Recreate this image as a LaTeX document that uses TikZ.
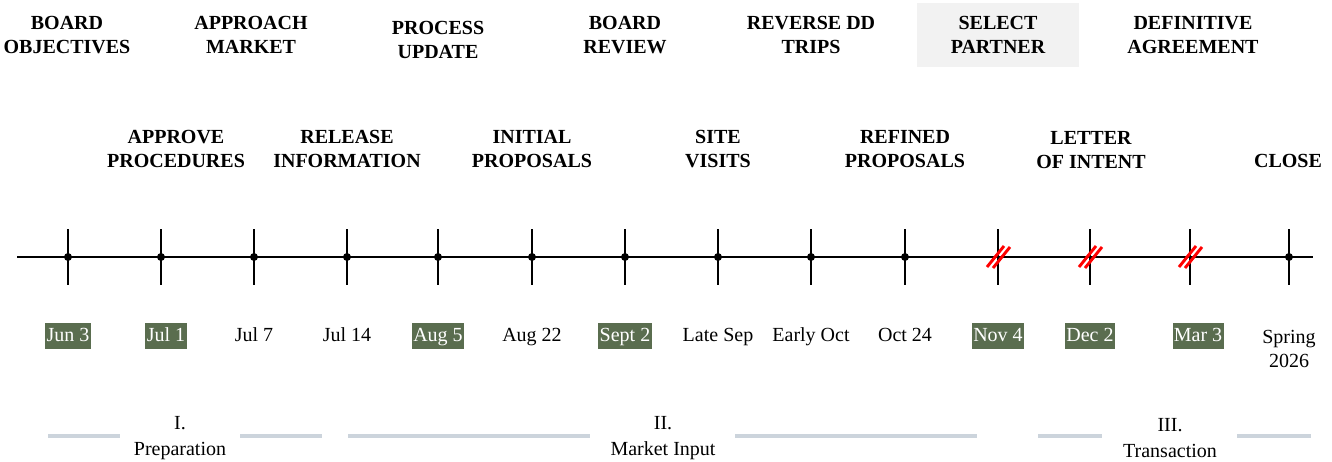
\documentclass[tikz,border=0pt]{standalone}
\usepackage{fontspec}
\setmainfont{Liberation Serif}
\usetikzlibrary{positioning}
\definecolor{datefill}{HTML}{5A6D4F}
\definecolor{pickfill}{HTML}{F2F2F2}
\definecolor{phaseline}{HTML}{CCD4DC}
\tikzset{
    point/.style     = {coordinate},
    event/.style     = {font=\bfseries\fontsize{15}{18}\selectfont, align=center, inner sep=0pt},
    datetext/.style  = {font=\fontsize{15}{18}\selectfont, align=center, inner xsep=1pt, inner ysep=2.5pt, text height=11pt, text depth=3pt},
    datebox/.style   = {datetext, fill=datefill, text=white},
    spring/.style    = {font=\fontsize{15}{18}\selectfont, align=center, inner sep=0pt},
    tick/.style      = {line width=1.3pt},
    dot/.style       = {circle, fill=black, inner sep=0pt, minimum size=6pt},
    axis/.style      = {line width=1pt},
    cut/.style       = {red, line width=2.2pt},
    phase/.style     = {phaseline, line width=2.4pt},
    phasetext/.style = {font=\fontsize{15}{19}\selectfont, align=center, inner sep=0pt}
}

\begin{document}
\begin{tikzpicture}[x=0.75pt, y=-0.75pt]
	\useasboundingbox (0,0) rectangle (1332,461);

	% milestones above the line
	\node (objectives) [event] at (67,35) {BOARD\\OBJECTIVES};
	\node (approach)   [event] at (251,35) {APPROACH\\MARKET};
	\node (update)     [event] at (438,40) {PROCESS\\UPDATE};
	\node (review)     [event] at (625,35) {BOARD\\REVIEW};
	\node (trips)      [event] at (811,35) {REVERSE DD\\TRIPS};
	\node (partner)    [event, fill=pickfill, minimum width=121.5pt, minimum height=48pt] at (998,35) {SELECT\\PARTNER};
	\node (agreement)  [event] at (1193,35) {DEFINITIVE\\AGREEMENT};

	\node (procedures) [event] at (176,149) {APPROVE\\PROCEDURES};
	\node (release)    [event] at (347,149) {RELEASE\\INFORMATION};
	\node (initial)    [event] at (532,149) {INITIAL\\PROPOSALS};
	\node (visits)     [event] at (718,149) {SITE\\VISITS};
	\node (refined)    [event] at (905,149) {REFINED\\PROPOSALS};
	\node (intent)     [event] at (1091,150) {LETTER\\OF INTENT};
	\node (close)      [event] at (1288,161) {CLOSE};

	% time line
	\node (axisL) [point] at (17,257) {};
	\node (axisR) [point] at (1313,257) {};
	\draw [axis] (axisL) -- (axisR);
	\foreach \x [count=\i] in {68,161,254,347,438,532,625,718,811,905,998,1090,1190,1289}{
		\node (t\i) [point] at (\x,257) {};
		\draw [tick] (t\i) ++(0,-28) -- ++(0,56);
	}
	\foreach \i in {1,...,10,14}
		\node [dot] at (t\i) {};
	\foreach \i in {11,12,13}{
		\draw [cut] (t\i) ++(-11,10) -- ++(17,-21);
		\draw [cut] (t\i) ++(-5,11) -- ++(17,-21);
	}

	% dates
	\node (jun3)  [datebox]  at (68,336) {Jun 3};
	\node (jul1)  [datebox]  at (166,336) {Jul 1};
	\node (jul7)  [datetext] at (254,336) {Jul 7};
	\node (jul14) [datetext] at (347,336) {Jul 14};
	\node (aug5)  [datebox]  at (438,336) {Aug 5};
	\node (aug22) [datetext] at (532,336) {Aug 22};
	\node (sep2)  [datebox]  at (625,336) {Sept 2};
	\node (lsep)  [datetext] at (718,336) {Late Sep};
	\node (eoct)  [datetext] at (811,336) {Early Oct};
	\node (oct24) [datetext] at (905,336) {Oct 24};
	\node (nov4)  [datebox]  at (998,336) {Nov 4};
	\node (dec2)  [datebox]  at (1090,336) {Dec 2};
	\node (mar3)  [datebox]  at (1198,336) {Mar 3};
	\node (sprg)  [spring]   at (1289,349) {Spring\\2026};

	% phases
	\node (prep)   [phasetext] at (180,438) {I.\\Preparation};
	\node (market) [phasetext] at (663,438) {II.\\Market Input};
	\node (trans)  [phasetext] at (1170,438) {III.\\Transaction};
	\foreach \a/\b in {48/120, 240/322, 348/590, 735/977, 1038/1102, 1237/1311}
		\draw [phase] (\a,436) -- (\b,436);
\end{tikzpicture}
\end{document}
